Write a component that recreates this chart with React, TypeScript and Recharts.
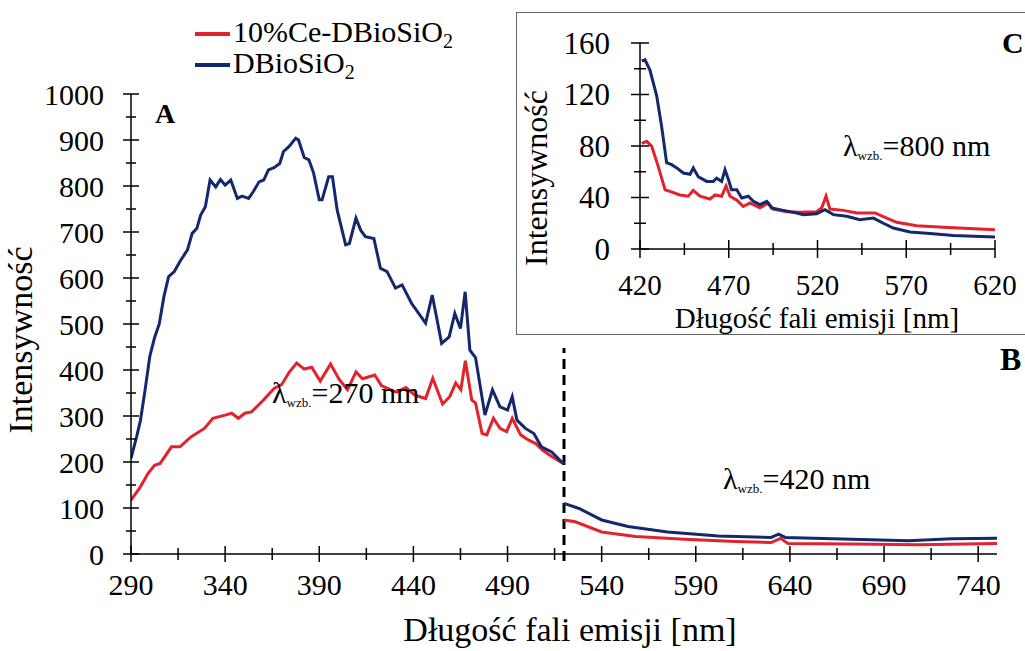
import React from 'react';
import { LineChart, Line, XAxis, YAxis, ReferenceLine } from 'recharts';

const RED = '#e3232c';
const BLUE = '#14296b';
const FONT = '"Liberation Serif", "Times New Roman", serif';

// A: excitation 270 nm
const wlBlueA = [290, 293, 295, 297.5, 300, 302.5, 305, 307.5, 310, 313, 316, 320, 322.5, 325, 327, 329.5, 332, 335, 337.5, 340, 343, 346.5, 349, 352.5, 355, 358, 360.5, 363, 366, 369, 371, 374, 377.5, 379, 382, 384.5, 387, 390, 391.5, 395, 397, 399.5, 404, 406, 409.5, 412, 414.5, 419, 422.5, 426, 430.5, 434, 439, 446.5, 450, 455, 459, 462, 465, 467.5, 470, 473, 478, 482, 486, 490, 492.5, 495, 499.5, 504, 508, 513.5, 520];
const blueA = [208, 255, 290, 357, 430, 470, 500, 560, 603, 614, 636, 661, 697, 708, 737, 755, 813, 798, 814, 802, 813, 773, 778, 773, 788, 809, 813, 835, 840, 849, 875, 886, 904, 900, 862, 857, 828, 770, 770, 820, 820, 748, 672, 675, 730, 704, 690, 686, 621, 614, 578, 585, 545, 502, 563, 458, 472, 523, 490, 570, 443, 427, 302, 357, 320, 313, 342, 291, 273, 262, 233, 222, 195];
const wlRedA = [290, 295, 299, 302.5, 305.5, 311.5, 316, 322, 329, 333.5, 340, 343.5, 347, 350.5, 354, 360, 366, 370, 374, 378, 382, 386, 390.5, 396, 400.5, 405, 409.5, 413, 419.5, 423, 427.5, 431, 436, 441, 446.5, 450.3, 455.5, 459.3, 462.5, 465.2, 467.6, 471, 473, 476.5, 479, 482.5, 486, 489.5, 492.5, 497, 501, 505, 508.5, 513.5, 520];
const redA = [117, 146, 175, 193, 197, 233, 233, 255, 273, 295, 302, 306, 295, 306, 309, 333, 360, 368, 395, 415, 402, 406, 376, 413, 380, 357, 396, 381, 389, 366, 358, 352, 362, 345, 338, 382, 326, 342, 372, 357, 420, 335, 328, 262, 259, 295, 273, 266, 295, 259, 248, 240, 226, 212, 196];

// B: excitation 420 nm
const wlBlueB = [520, 528, 540, 554, 575, 602, 630, 634, 637.5, 673, 703, 726, 750];
const blueB = [110, 99, 74, 60, 48, 39, 36, 43, 36, 32, 29, 33, 34];
const wlRedB = [520, 526, 540, 558, 584, 611, 630, 635, 639, 673, 708, 750];
const redB = [74, 70, 48, 38, 32, 27, 25, 34, 23, 22, 20, 23];

// C: excitation 800 nm (inset)
const wlBlueC = [421, 422.8, 425.6, 429.4, 432.2, 435, 437.8, 440.7, 444.4, 448.2, 450, 452.9, 457.6, 461.3, 463.2, 466, 467.9, 469.8, 471.6, 474.5, 477.3, 481, 483.9, 487.6, 491.4, 494.2, 500.8, 508.3, 512, 519.5, 524.2, 528.9, 536.4, 543.9, 551.5, 557.1, 562.7, 572.1, 583.4, 596.5, 620];
const blueC = [146, 147, 139, 119, 95, 67, 65.5, 63, 59, 58, 63, 56, 52.5, 52.5, 55, 52.5, 61.6, 54, 46, 46, 39.6, 41, 37, 34.4, 37, 31.8, 30, 28, 26.7, 27.4, 30.5, 26.7, 25.4, 22.8, 24, 20, 16.3, 13.2, 12, 10.4, 9.3];
const wlRedC = [421, 423.8, 426.6, 430.3, 434.1, 436.9, 442.5, 447.2, 450, 453.8, 459.4, 462.3, 466, 468.5, 470.7, 474.5, 478.2, 482, 487.6, 492.3, 495.1, 502.6, 510.1, 519.5, 522.4, 524.8, 527, 534.6, 542.1, 552.4, 559, 564.6, 575.9, 590.9, 620];
const redC = [82, 83.6, 79.7, 64, 46, 44.8, 42, 41, 45.6, 41, 38.8, 42, 41, 49, 41, 38, 33, 35.7, 32, 35.7, 31, 29, 28.5, 29, 32, 41, 31, 30, 28, 28, 24, 20.7, 18, 16.8, 15];

const mainXTicks = [290, 315, 340, 365, 390, 415, 440, 465, 490, 515, 540, 565, 590, 615, 640, 665, 690, 715, 740];
const mainXLabels = [290, 340, 390, 440, 490, 540, 590, 640, 690, 740];
const mainYTicks = [0, 50, 100, 150, 200, 250, 300, 350, 400, 450, 500, 550, 600, 650, 700, 750, 800, 850, 900, 950, 1000];
const mainYLabels = [0, 100, 200, 300, 400, 500, 600, 700, 800, 900, 1000];
const insetXTicks = [420, 445, 470, 495, 520, 545, 570, 595, 620];
const insetXLabels = [420, 470, 520, 570, 620];
const insetYTicks = [0, 20, 40, 60, 80, 100, 120, 140, 160];
const insetYLabels = [0, 40, 80, 120, 160];

const toPoints = (wl: number[], v: number[]) => wl.map((x, i) => ({ x, y: v[i] }));

const XTick = ({ x, y, payload, labels, size, long, short, dyText }: any) => {
  const major = labels.includes(payload.value);
  const len = major ? long : short;
  return (
    <g>
      <line x1={x} x2={x} y1={y - len} y2={y + len} stroke="#000" strokeWidth={1.5} />
      {major && (
        <text x={x} y={y + dyText} textAnchor="middle" fontFamily={FONT} fontSize={size} fill="#000">
          {payload.value}
        </text>
      )}
    </g>
  );
};

const YTick = ({ x, y, payload, labels, size, long, short, dxText }: any) => {
  const major = labels.includes(payload.value);
  const len = major ? long : short;
  return (
    <g>
      <line x1={x - len} x2={x + len} y1={y} y2={y} stroke="#000" strokeWidth={1.5} />
      {major && (
        <text x={x - dxText} y={y} dy="0.35em" textAnchor="end" fontFamily={FONT} fontSize={size} fill="#000">
          {payload.value}
        </text>
      )}
    </g>
  );
};

const Lambda = ({ x, y, value, size = 30 }: { x: number; y: number; value: string; size?: number }) => (
  <text x={x} y={y} fontFamily={FONT} fontSize={size} fill="#000">
    λ<tspan fontSize={13} dy={4}>wzb.</tspan>
    <tspan dy={-4}>={value} nm</tspan>
  </text>
);

const axisStyle = { stroke: '#000', strokeWidth: 1.5 };

export default function App() {
  return (
    <div style={{ position: 'absolute', left: 0, top: 0, width: 1025, height: 651, background: '#fff' }}>
      <div style={{ position: 'absolute', left: 0, top: 0 }}>
        <LineChart width={1025} height={651} margin={{ top: 94, right: 28, left: 0, bottom: 0 }}>
          <XAxis
            type="number"
            dataKey="x"
            domain={[290, 750]}
            ticks={mainXTicks}
            interval={0}
            height={97}
            tickSize={0}
            tickMargin={0}
            tickLine={false}
            axisLine={axisStyle}
            allowDataOverflow
            tick={(p: any) => <XTick {...p} labels={mainXLabels} size={30} long={8} short={6} dyText={41} />}
          />
          <YAxis
            type="number"
            domain={[0, 1000]}
            ticks={mainYTicks}
            interval={0}
            width={131}
            tickSize={0}
            tickMargin={0}
            tickLine={false}
            axisLine={axisStyle}
            tick={(p: any) => <YTick {...p} labels={mainYLabels} size={30} long={8} short={5} dxText={27} />}
          />
          <ReferenceLine
            segment={[{ x: 520, y: -15 }, { x: 520, y: 448 }]}
            stroke="#000"
            strokeWidth={3}
            strokeDasharray="10 6"
            ifOverflow="visible"
          />
          <Line data={toPoints(wlRedA, redA)} dataKey="y" type="linear" stroke={RED} strokeWidth={3} dot={false} isAnimationActive={false} />
          <Line data={toPoints(wlBlueA, blueA)} dataKey="y" type="linear" stroke={BLUE} strokeWidth={3} dot={false} isAnimationActive={false} />
          <Line data={toPoints(wlRedB, redB)} dataKey="y" type="linear" stroke={RED} strokeWidth={3} dot={false} isAnimationActive={false} />
          <Line data={toPoints(wlBlueB, blueB)} dataKey="y" type="linear" stroke={BLUE} strokeWidth={3} dot={false} isAnimationActive={false} />
        </LineChart>
      </div>

      <svg width={1025} height={651} style={{ position: 'absolute', left: 0, top: 0, pointerEvents: 'none' }}>
        <line x1={195} x2={230} y1={34} y2={34} stroke={RED} strokeWidth={4} />
        <text x={233} y={42} fontFamily={FONT} fontSize={30} fill="#000">
          10%Ce-DBioSiO<tspan fontSize={20} dy={6}>2</tspan>
        </text>
        <line x1={195} x2={230} y1={65} y2={65} stroke={BLUE} strokeWidth={4} />
        <text x={233} y={73} fontFamily={FONT} fontSize={30} fill="#000">
          DBioSiO<tspan fontSize={20} dy={6}>2</tspan>
        </text>
        <text x={155} y={123} fontFamily={FONT} fontSize={28} fontWeight="bold" fill="#000">A</text>
        <text x={1000} y={370} fontFamily={FONT} fontSize={32} fontWeight="bold" fill="#000">B</text>
        <Lambda x={272} y={403} value="270" />
        <Lambda x={723} y={489} value="420" />
        <text x={32} y={340} transform="rotate(-90 32 340)" textAnchor="middle" fontFamily={FONT} fontSize={34} fill="#000">
          Intensywność
        </text>
        <text x={570} y={641} textAnchor="middle" fontFamily={FONT} fontSize={34} fill="#000">
          Długość fali emisji [nm]
        </text>
      </svg>

      <div
        style={{
          position: 'absolute',
          left: 516,
          top: 12,
          width: 520,
          height: 323,
          background: '#fff',
          border: '1.5px solid #666',
          boxSizing: 'border-box',
        }}
      />
      <div style={{ position: 'absolute', left: 516, top: 12 }}>
        <LineChart width={509} height={323} margin={{ top: 31, right: 30, left: 0, bottom: 0 }}>
          <XAxis
            type="number"
            dataKey="x"
            domain={[420, 620]}
            ticks={insetXTicks}
            interval={0}
            height={86}
            tickSize={0}
            tickMargin={0}
            tickLine={false}
            axisLine={axisStyle}
            allowDataOverflow
            tick={(p: any) => <XTick {...p} labels={insetXLabels} size={29} long={9} short={6} dyText={46} />}
          />
          <YAxis
            type="number"
            domain={[0, 160]}
            ticks={insetYTicks}
            interval={0}
            width={124}
            tickSize={0}
            tickMargin={0}
            tickLine={false}
            axisLine={axisStyle}
            tick={(p: any) => <YTick {...p} labels={insetYLabels} size={31} long={9} short={6} dxText={30} />}
          />
          <Line data={toPoints(wlRedC, redC)} dataKey="y" type="linear" stroke={RED} strokeWidth={3} dot={false} isAnimationActive={false} />
          <Line data={toPoints(wlBlueC, blueC)} dataKey="y" type="linear" stroke={BLUE} strokeWidth={3} dot={false} isAnimationActive={false} />
        </LineChart>
      </div>

      <svg width={1025} height={651} style={{ position: 'absolute', left: 0, top: 0, pointerEvents: 'none' }}>
        <text x={1002} y={53} fontFamily={FONT} fontSize={30} fontWeight="bold" fill="#000">C</text>
        <Lambda x={843} y={156} value="800" />
        <text x={547} y={178} transform="rotate(-90 547 178)" textAnchor="middle" fontFamily={FONT} fontSize={32} fill="#000">
          Intensywność
        </text>
        <text x={817} y={328} textAnchor="middle" fontFamily={FONT} fontSize={29} fill="#000">
          Długość fali emisji [nm]
        </text>
      </svg>
    </div>
  );
}
